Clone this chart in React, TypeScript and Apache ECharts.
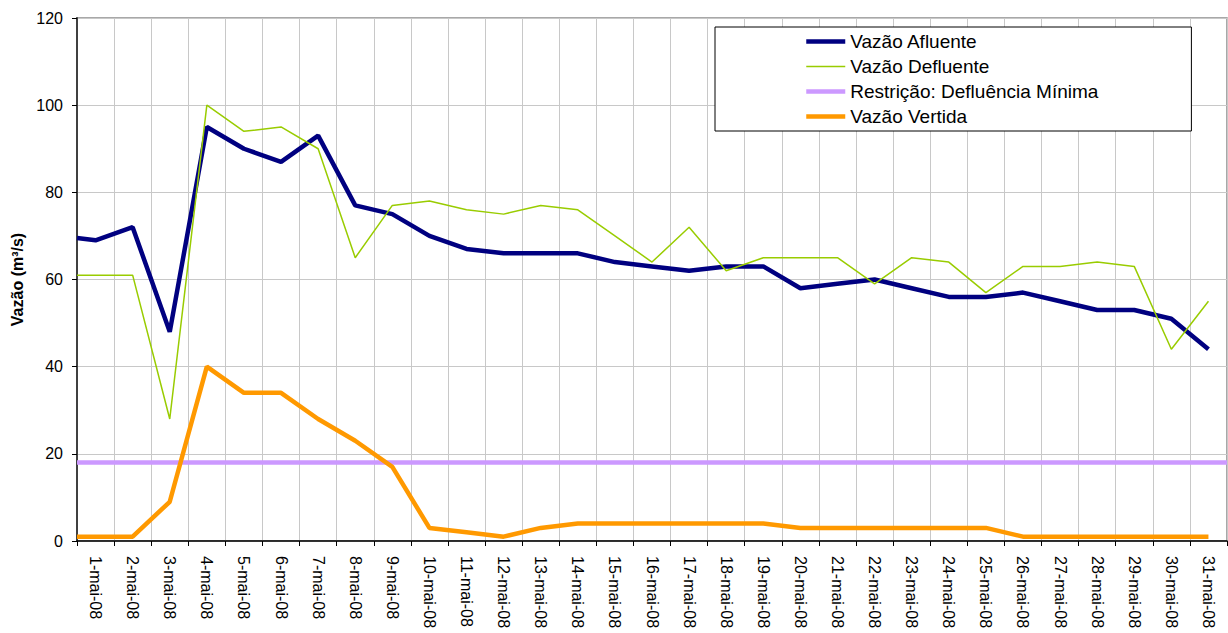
import React, { useEffect, useRef } from "react";
import * as echarts from "echarts";

const days: string[] = [
  "1-mai-08", "2-mai-08", "3-mai-08", "4-mai-08", "5-mai-08", "6-mai-08", "7-mai-08", "8-mai-08",
  "9-mai-08", "10-mai-08", "11-mai-08", "12-mai-08", "13-mai-08", "14-mai-08", "15-mai-08", "16-mai-08",
  "17-mai-08", "18-mai-08", "19-mai-08", "20-mai-08", "21-mai-08", "22-mai-08", "23-mai-08", "24-mai-08",
  "25-mai-08", "26-mai-08", "27-mai-08", "28-mai-08", "29-mai-08", "30-mai-08", "31-mai-08",
];

// value at the start of the period (left edge of the plot)
const afluenteInicial = 69.5;
const defluenteInicial = 61;
const vertidaInicial = 1;

const afluente: number[] = [
  69, 72, 48, 95, 90, 87, 93, 77, 75, 70, 67, 66, 66, 66, 64, 63,
  62, 63, 63, 58, 59, 60, 58, 56, 56, 57, 55, 53, 53, 51, 44,
];
const defluente: number[] = [
  61, 61, 28, 100, 94, 95, 90, 65, 77, 78, 76, 75, 77, 76, 70, 64,
  72, 62, 65, 65, 65, 59, 65, 64, 57, 63, 63, 64, 63, 44, 55,
];
const vertida: number[] = [
  1, 1, 9, 40, 34, 34, 28, 23, 17, 3, 2, 1, 3, 4, 4, 4,
  4, 4, 4, 3, 3, 3, 3, 3, 3, 1, 1, 1, 1, 1, 1,
];
const restricao = 18;

const yTicks = { min: 0, max: 120, interval: 20 };

const FONT = "'Liberation Sans', Arial, Helvetica, sans-serif";

const S = [
  { name: "Vazão Afluente", color: "#000080", width: 4.5 },
  { name: "Vazão Defluente", color: "#99cc00", width: 1.5 },
  { name: "Restrição: Defluência Mínima", color: "#cc99ff", width: 4.5 },
  { name: "Vazão Vertida", color: "#ff9900", width: 4.5 },
];

function build(start: number, vals: number[]): [number, number][] {
  const out: [number, number][] = [[0, start]];
  vals.forEach((v, i) => out.push([i + 0.5, v]));
  return out;
}

export default function App() {
  const ref = useRef<HTMLDivElement>(null);
  useEffect(() => {
    if (!ref.current) return;
    const chart = echarts.init(ref.current, undefined, { renderer: "svg" });
    const datas = [
      build(afluenteInicial, afluente),
      build(defluenteInicial, defluente),
      [
        [0, restricao],
        [days.length, restricao],
      ],
      build(vertidaInicial, vertida),
    ];
    const option: any = {
      animation: false,
      backgroundColor: "#ffffff",
      textStyle: { fontFamily: FONT },
      grid: {
        left: 77,
        right: 1,
        top: 18,
        bottom: 92,
        show: true,
        borderColor: "#8c8c8c",
        borderWidth: 1.5,
        backgroundColor: "transparent",
      },
      legend: {
        orient: "vertical",
        left: 715,
        top: 27,
        padding: [5, 93, 5, 89],
        itemGap: 6,
        itemWidth: 39,
        itemHeight: 19,
        backgroundColor: "#ffffff",
        borderColor: "#000000",
        borderWidth: 1,
        itemStyle: { opacity: 0 },
        textStyle: { fontSize: 19, color: "#000000", fontFamily: FONT },
        data: S.map((s) => ({
          name: s.name,
          itemStyle: { opacity: 0 },
          lineStyle: { color: s.color, width: s.width },
        })),
      },
      xAxis: [
        {
          type: "category",
          data: days,
          boundaryGap: true,
          axisLine: { show: true, lineStyle: { color: "#000000", width: 1.5 } },
          axisTick: { show: true, interval: 0, length: 5, lineStyle: { color: "#000000" } },
          axisLabel: {
            interval: 0,
            rotate: -90,
            fontSize: 16,
            color: "#000000",
            margin: 15,
            fontFamily: FONT,
          },
          splitLine: { show: true, interval: 0, lineStyle: { color: "#c8c8c8", width: 1 } },
        },
        {
          type: "value",
          min: 0,
          max: days.length,
          show: false,
          splitLine: { show: false },
        },
      ],
      yAxis: {
        type: "value",
        min: yTicks.min,
        max: yTicks.max,
        interval: yTicks.interval,
        name: "Vazão (m³/s)",
        nameLocation: "middle",
        nameGap: 52,
        nameRotate: 90,
        nameTextStyle: { fontSize: 16, fontWeight: "bold", color: "#000000", fontFamily: FONT },
        axisLine: { show: true, lineStyle: { color: "#404040", width: 2 } },
        axisTick: { show: true, length: 5, lineStyle: { color: "#000000" } },
        axisLabel: { fontSize: 16, color: "#000000", margin: 14, fontFamily: FONT },
        splitLine: { show: true, lineStyle: { color: "#c8c8c8", width: 1 } },
      },
      series: S.map((s, i) => ({
        name: s.name,
        type: "line",
        xAxisIndex: 1,
        data: datas[i],
        symbol: "none",
        lineStyle: { color: s.color, width: s.width },
        itemStyle: { color: s.color },
        clip: false,
      })),
    };
    chart.setOption(option);
    return () => chart.dispose();
  }, []);
  return (
    <div
      ref={ref}
      style={{ position: "fixed", left: 0, top: 0, width: 1228, height: 633 }}
    />
  );
}
